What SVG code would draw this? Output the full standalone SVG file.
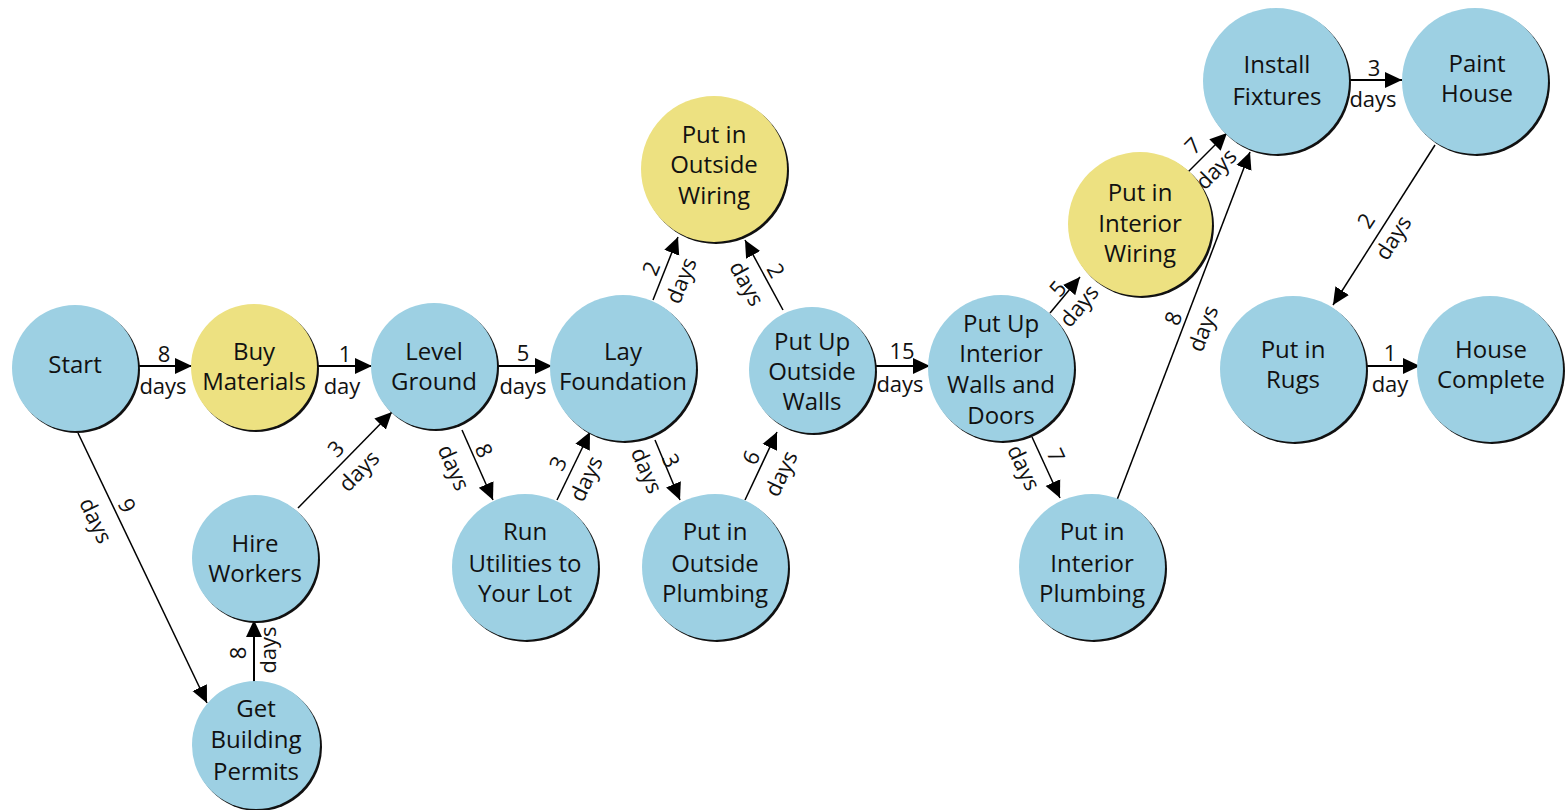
<svg xmlns="http://www.w3.org/2000/svg" width="1567" height="810" viewBox="0 0 1567 810">
<defs>
<marker id="ah" markerUnits="userSpaceOnUse" markerWidth="18" markerHeight="18" refX="17" refY="9" orient="auto">
<path d="M0,1 L17,9 L0,17 z" fill="#000"/>
</marker>
<style>
.sh{fill:#111}
.b{fill:#9DD0E3}
.y{fill:#EDE181}
.nt{font-family:"Open Sans","Noto Sans",sans-serif;font-size:24px;fill:#111;text-anchor:middle;dominant-baseline:central}
.el{font-family:"Open Sans","Noto Sans",sans-serif;font-size:22px;fill:#111;text-anchor:middle;dominant-baseline:central}
.e{stroke:#000;stroke-width:1.5;fill:none;marker-end:url(#ah)}
.h{stroke-width:2}
</style>
</defs>
<rect width="1567" height="810" fill="#fff"/>
<g id="connectors">
<line class="e h" x1="138" y1="366" x2="192" y2="366"/>
<line class="e h" x1="317" y1="366" x2="372" y2="366"/>
<line class="e h" x1="497" y1="366" x2="552" y2="366"/>
<line class="e h" x1="875" y1="366" x2="930" y2="366"/>
<line class="e h" x1="1348" y1="80" x2="1402" y2="80"/>
<line class="e h" x1="1367" y1="366" x2="1420" y2="366"/>
<line class="e" x1="78" y1="433" x2="207" y2="703"/>
<line class="e h" x1="254" y1="682" x2="254" y2="620"/>
<line class="e" x1="298" y1="508" x2="392" y2="412"/>
<line class="e" x1="462" y1="430" x2="493" y2="500"/>
<line class="e" x1="557" y1="500" x2="590" y2="432"/>
<line class="e" x1="655" y1="440" x2="680" y2="500"/>
<line class="e" x1="745" y1="500" x2="777" y2="432"/>
<line class="e" x1="653" y1="300" x2="678" y2="237"/>
<line class="e" x1="783" y1="310" x2="745" y2="240"/>
<line class="e" x1="1050" y1="313" x2="1080" y2="277"/>
<line class="e" x1="1032" y1="437" x2="1060" y2="498"/>
<line class="e" x1="1188" y1="172" x2="1227" y2="133"/>
<line class="e" x1="1117" y1="500" x2="1250" y2="152"/>
<line class="e" x1="1435" y1="145" x2="1333" y2="305"/>
<text class="el" x="164" y="353">8</text><text class="el" x="163" y="385">days</text>
<text class="el" x="345" y="353">1</text><text class="el" x="342" y="385">day</text>
<text class="el" x="523" y="352">5</text><text class="el" x="523" y="385">days</text>
<text class="el" x="902" y="350">15</text><text class="el" x="900" y="383">days</text>
<text class="el" x="1374" y="67">3</text><text class="el" x="1373" y="98">days</text>
<text class="el" x="1390" y="352">1</text><text class="el" x="1390" y="383">day</text>
<text class="el" transform="translate(128,505) rotate(64.5)">9</text><text class="el" transform="translate(97,520) rotate(64.5)">days</text>
<text class="el" transform="translate(237,653) rotate(-90)">8</text><text class="el" transform="translate(267,650) rotate(-90)">days</text>
<text class="el" transform="translate(335,448) rotate(-45.6)">3</text><text class="el" transform="translate(358,470) rotate(-45.6)">days</text>
<text class="el" transform="translate(485,450) rotate(66)">8</text><text class="el" transform="translate(455,467) rotate(66)">days</text>
<text class="el" transform="translate(557,463) rotate(-64)">3</text><text class="el" transform="translate(585,478) rotate(-64)">days</text>
<text class="el" transform="translate(672,460) rotate(67)">3</text><text class="el" transform="translate(648,470) rotate(67)">days</text>
<text class="el" transform="translate(750,457) rotate(-64.8)">6</text><text class="el" transform="translate(780,473) rotate(-64.8)">days</text>
<text class="el" transform="translate(650,268) rotate(-68)">2</text><text class="el" transform="translate(680,280) rotate(-68)">days</text>
<text class="el" transform="translate(777,270) rotate(61.5)">2</text><text class="el" transform="translate(748,283) rotate(61.5)">days</text>
<text class="el" transform="translate(1057,288) rotate(-50)">5</text><text class="el" transform="translate(1078,305) rotate(-50)">days</text>
<text class="el" transform="translate(1057,455) rotate(65)">7</text><text class="el" transform="translate(1025,467) rotate(65)">days</text>
<text class="el" transform="translate(1192,145) rotate(-45)">7</text><text class="el" transform="translate(1215,168) rotate(-45)">days</text>
<text class="el" transform="translate(1172,318) rotate(-69)">8</text><text class="el" transform="translate(1202,328) rotate(-69)">days</text>
<text class="el" transform="translate(1365,220) rotate(-57.5)">2</text><text class="el" transform="translate(1392,237) rotate(-57.5)">days</text>
</g>
<g id="start"><circle class="sh" cx="77" cy="370" r="63"/><circle class="b" cx="75" cy="368" r="63"/><text class="nt" x="75" y="363">Start</text></g>
<g id="buy-materials"><circle class="sh" cx="256" cy="369" r="63"/><circle class="y" cx="254" cy="367" r="63"/><text class="nt" x="254" y="350">Buy</text><text class="nt" x="254" y="380">Materials</text></g>
<g id="level-ground"><circle class="sh" cx="436" cy="368" r="63"/><circle class="b" cx="434" cy="366" r="63"/><text class="nt" x="434" y="350">Level</text><text class="nt" x="434" y="380">Ground</text></g>
<g id="lay-foundation"><circle class="sh" cx="625" cy="370" r="73"/><circle class="b" cx="623" cy="368" r="73"/><text class="nt" x="623" y="350">Lay</text><text class="nt" x="623" y="380">Foundation</text></g>
<g id="outside-wiring"><circle class="sh" cx="716" cy="171" r="73"/><circle class="y" cx="714" cy="169" r="73"/><text class="nt" x="714" y="133">Put in</text><text class="nt" x="714" y="163">Outside</text><text class="nt" x="714" y="194">Wiring</text></g>
<g id="outside-walls"><circle class="sh" cx="814" cy="372" r="63"/><circle class="b" cx="812" cy="370" r="63"/><text class="nt" x="812" y="340">Put Up</text><text class="nt" x="812" y="370">Outside</text><text class="nt" x="812" y="400">Walls</text></g>
<g id="interior-walls"><circle class="sh" cx="1003" cy="370" r="73"/><circle class="b" cx="1001" cy="368" r="73"/><text class="nt" x="1001" y="322">Put Up</text><text class="nt" x="1001" y="352">Interior</text><text class="nt" x="1001" y="383">Walls and</text><text class="nt" x="1001" y="414">Doors</text></g>
<g id="interior-wiring"><circle class="sh" cx="1142" cy="226" r="72"/><circle class="y" cx="1140" cy="224" r="72"/><text class="nt" x="1140" y="191">Put in</text><text class="nt" x="1140" y="222">Interior</text><text class="nt" x="1140" y="252">Wiring</text></g>
<g id="install-fixtures"><circle class="sh" cx="1278" cy="83" r="73"/><circle class="b" cx="1276" cy="81" r="73"/><text class="nt" x="1277" y="63">Install</text><text class="nt" x="1277" y="95">Fixtures</text></g>
<g id="paint-house"><circle class="sh" cx="1477" cy="83" r="73"/><circle class="b" cx="1475" cy="81" r="73"/><text class="nt" x="1477" y="62">Paint</text><text class="nt" x="1477" y="92">House</text></g>
<g id="put-in-rugs"><circle class="sh" cx="1295" cy="371" r="73"/><circle class="b" cx="1293" cy="369" r="73"/><text class="nt" x="1293" y="348">Put in</text><text class="nt" x="1293" y="378">Rugs</text></g>
<g id="house-complete"><circle class="sh" cx="1492" cy="371" r="73"/><circle class="b" cx="1490" cy="369" r="73"/><text class="nt" x="1491" y="348">House</text><text class="nt" x="1491" y="378">Complete</text></g>
<g id="hire-workers"><circle class="sh" cx="257" cy="560" r="63"/><circle class="b" cx="255" cy="558" r="63"/><text class="nt" x="255" y="542">Hire</text><text class="nt" x="255" y="572">Workers</text></g>
<g id="building-permits"><circle class="sh" cx="258" cy="747" r="64"/><circle class="b" cx="256" cy="745" r="64"/><text class="nt" x="256" y="707">Get</text><text class="nt" x="256" y="738">Building</text><text class="nt" x="256" y="770">Permits</text></g>
<g id="run-utilities"><circle class="sh" cx="527" cy="569" r="73"/><circle class="b" cx="525" cy="567" r="73"/><text class="nt" x="525" y="530">Run</text><text class="nt" x="525" y="562">Utilities to</text><text class="nt" x="525" y="592">Your Lot</text></g>
<g id="outside-plumbing"><circle class="sh" cx="717" cy="569" r="73"/><circle class="b" cx="715" cy="567" r="73"/><text class="nt" x="715" y="530">Put in</text><text class="nt" x="715" y="562">Outside</text><text class="nt" x="715" y="592">Plumbing</text></g>
<g id="interior-plumbing"><circle class="sh" cx="1094" cy="569" r="73"/><circle class="b" cx="1092" cy="567" r="73"/><text class="nt" x="1092" y="530">Put in</text><text class="nt" x="1092" y="562">Interior</text><text class="nt" x="1092" y="592">Plumbing</text></g>
</svg>
